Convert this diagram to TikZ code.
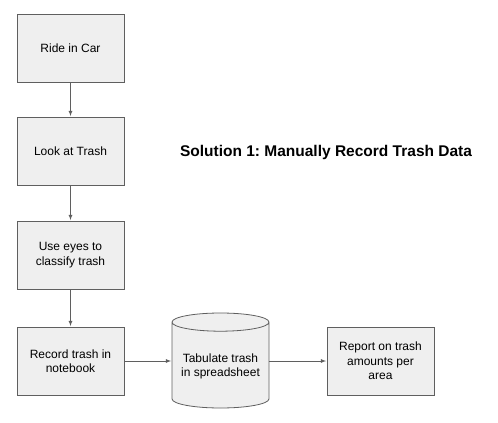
\documentclass[tikz,border=0pt]{standalone}
\usepackage{fontspec}
\setmainfont{Liberation Sans}
\usepackage{tikz}
\usetikzlibrary{shapes.geometric}
\definecolor{boxfill}{HTML}{EFEFEF}
\definecolor{boxline}{HTML}{5F5F5F}
\frenchspacing
\tikzset{
	stepbox/.style={draw=boxline, fill=boxfill, line width=0.8pt, minimum width=107pt, minimum height=68pt, align=center, font=\fontsize{12}{14.5}\selectfont, inner sep=2pt},
	flow/.style={->, >=latex, draw=boxline, line width=0.8pt, shorten >=0.5pt}
}
\begin{document}
\begin{tikzpicture}[x=1pt,y=-1pt]
					\useasboundingbox (0,0) rectangle (498,423);
					\node[stepbox] (ride) at (70.5,48){Ride in Car};
					\node[stepbox] (look) at (70.5,151){Look at Trash};
					\node[stepbox] (eyes) at (70.5,255){Use eyes to\\classify trash};
					\node[stepbox] (notebook) at (70.5,361){Record trash in\\notebook};
					\node[stepbox, cylinder, shape border rotate=90, aspect=0.22, minimum width=97pt, minimum height=95pt, anchor=shape center] (sheet) at (220.5,360.5){Tabulate trash\\in spreadsheet};
					\node[stepbox] (report) at (380.5,361){Report on trash\\amounts per\\area};
					\node[font=\fontsize{15.5}{18}\bfseries\selectfont] (title) at (326,152){Solution 1: Manually Record Trash Data};

					\draw[flow](ride)--(look);
					\draw[flow](look)--(eyes);
					\draw[flow](eyes)--(notebook);
					\draw[flow](notebook)--(notebook-|sheet.west);
					\draw[flow](notebook-|sheet.east)--(report);
				\end{tikzpicture}
\end{document}
